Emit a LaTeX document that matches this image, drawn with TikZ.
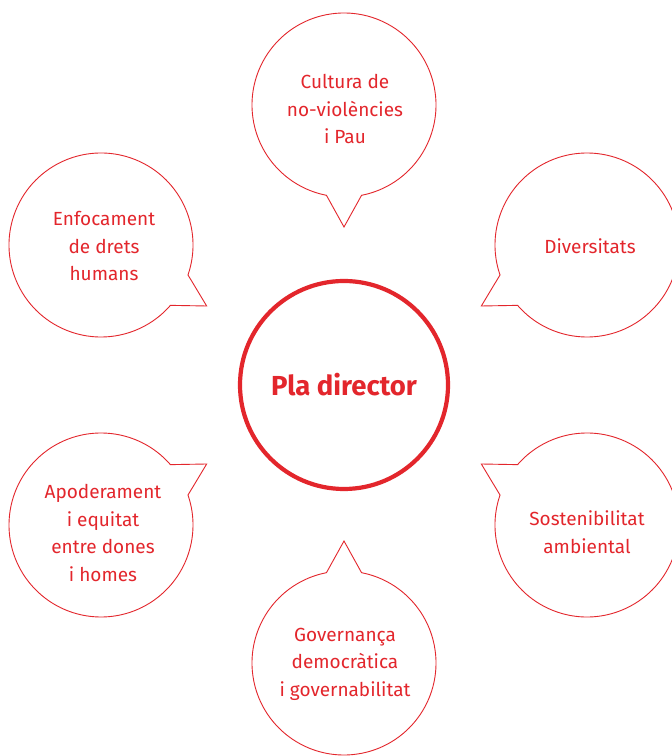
\documentclass[tikz,border=0pt]{standalone}
\usepackage{fontspec}
\setmainfont{Fira Sans}
\usetikzlibrary{calc}
\definecolor{pdred}{RGB}{227,38,44}
\tikzset{
  bubble/.style={draw=pdred, line width=0.9pt, line join=miter},
  btext/.style={text=pdred, align=center, font=\fontsize{19}{27.5}\selectfont, inner sep=0pt},
  core/.style={circle, draw=pdred, line width=4.2pt, minimum size=208pt, inner sep=0pt,
    text=pdred, font=\fontsize{27.5}{32}\selectfont\bfseries}
}
% #1 centre name, #2 direction of the tail
\newcommand{\speechbubble}[2]{%
  \draw[bubble] ($(#1)+(#2+11:92pt)$) arc[start angle=#2+11, end angle=#2+349, radius=92pt]
    -- ($(#1)+(#2:122pt)$) -- cycle;}
\begin{document}
\begin{tikzpicture}[x=1pt,y=1pt]
\useasboundingbox (0,0) rectangle (672,756);
\clip (0,0) rectangle (672,756);
\fill[white] (0,0) rectangle (672,756);
\coordinate (ctop) at (344,651);
\coordinate (cbot) at (344,93);
\coordinate (clt) at (101,511);
\coordinate (clb) at (101,231);
\coordinate (crt) at (587,511);
\coordinate (crb) at (587,231);
\speechbubble{ctop}{-90}
\speechbubble{cbot}{90}
\speechbubble{clt}{-30}
\speechbubble{clb}{30}
\speechbubble{crt}{210}
\speechbubble{crb}{150}
\node[core] (pd) at (344,371) {Pla director};
\node[btext] (ttop) at (345,647) {Cultura de\\no-violències\\i Pau};
\node[btext] (tlt) at (104,510) {Enfocament\\de drets\\humans};
\node[btext] (trt) at (590,510) {Diversitats};
\node[btext] (tlb) at (103,223) {Apoderament\\i equitat\\entre dones\\i homes};
\node[btext] (trb) at (587,224) {Sostenibilitat\\ambiental};
\node[btext] (tbot) at (345,92) {Governança\\democràtica\\i governabilitat};
\end{tikzpicture}
\end{document}
